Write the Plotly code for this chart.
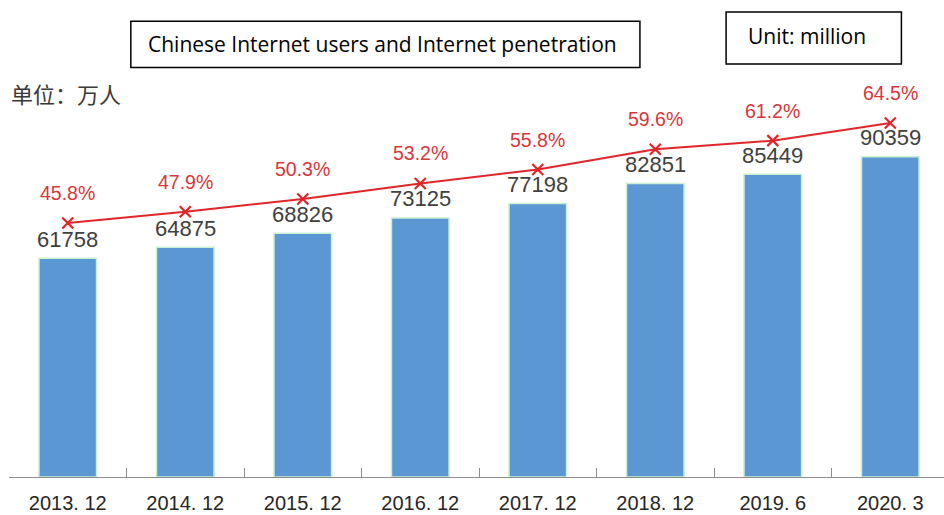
import plotly.graph_objects as go

categories = ["2013. 12", "2014. 12", "2015. 12", "2016. 12", "2017. 12", "2018. 12", "2019. 6", "2020. 3"]
users = [61758, 64875, 68826, 73125, 77198, 82851, 85449, 90359]
penetration = [45.8, 47.9, 50.3, 53.2, 55.8, 59.6, 61.2, 64.5]
pct_labels = ["45.8%", "47.9%", "50.3%", "53.2%", "55.8%", "59.6%", "61.2%", "64.5%"]

fig = go.Figure()
fig.add_trace(go.Bar(
    x=categories, y=users,
    marker=dict(color="#5B97D3", line=dict(color="#C9F0D2", width=1.5)),
    width=0.49, hoverinfo="skip",
))
fig.add_trace(go.Scatter(
    x=categories, y=penetration, yaxis="y2", mode="lines+markers",
    line=dict(color="#E0262A", width=2),
    marker=dict(symbol="x-thin", size=11, line=dict(color="#E0262A", width=2.2), color="#E0262A"),
    hoverinfo="skip",
))

ann = []
for c, v in zip(categories, users):
    ann.append(dict(x=c, y=v, xref="x", yref="y", text=str(v), showarrow=False,
                    yanchor="middle", yshift=19,
                    font=dict(family="Liberation Sans, Arial", size=22, color="#404040")))
for c, p, t in zip(categories, penetration, pct_labels):
    ann.append(dict(x=c, y=p, xref="x", yref="y2", text=t, showarrow=False,
                    yanchor="middle", yshift=30,
                    font=dict(family="Liberation Sans, Arial", size=19.5, color="#D9363A")))

# headings
ann.append(dict(x=0 / 944, y=1 - 100 / 515, xref="paper", yref="paper", xanchor="left", yanchor="middle",
                text="单位：万人", showarrow=False,
                font=dict(family="Noto Sans CJK SC", size=22, color="#3a3a3a")))
ann.append(dict(x=377 / 944, y=1 - 48 / 515, xref="paper", yref="paper", xanchor="center", yanchor="middle",
                text="Chinese Internet users and Internet penetration", showarrow=False,
                font=dict(family="Open Sans", size=21, color="#000000")))
ann.append(dict(x=744 / 944, y=1 - 39 / 515, xref="paper", yref="paper", xanchor="left", yanchor="middle",
                text="Unit: million", showarrow=False,
                font=dict(family="Open Sans", size=21, color="#000000")))

shapes = [
    dict(type="rect", xref="paper", yref="paper", x0=123 / 944, x1=637 / 944,
         y0=1 - 73 / 515, y1=1 - 23 / 515, line=dict(color="#000000", width=1.5), fillcolor="rgba(0,0,0,0)"),
    dict(type="rect", xref="paper", yref="paper", x0=724 / 944, x1=901 / 944,
         y0=1 - 69 / 515, y1=1 - 13 / 515, line=dict(color="#000000", width=1.5), fillcolor="rgba(0,0,0,0)"),
]

fig.update_layout(
    width=944, height=515,
    margin=dict(l=9, r=0, t=0, b=38),
    paper_bgcolor="white", plot_bgcolor="white",
    showlegend=False,
    xaxis=dict(range=[-0.5, 7.457], showline=True, linecolor="#8c8c8c", linewidth=1.2,
               ticks="inside", tickson="boundaries", ticklen=9, tickcolor="#8c8c8c", tickwidth=1.2,
               tickfont=dict(family="Liberation Sans, Arial", size=20, color="#262626"),
               ticklabelstandoff=8, automargin=False,
               showgrid=False, zeroline=False, fixedrange=True),
    yaxis=dict(range=[0, 134630], visible=False, showgrid=False, zeroline=False),
    yaxis2=dict(range=[-1.7, 87.5], overlaying="y", visible=False, showgrid=False, zeroline=False),
    annotations=ann, shapes=shapes,
)

fig.write_html("out.html")
